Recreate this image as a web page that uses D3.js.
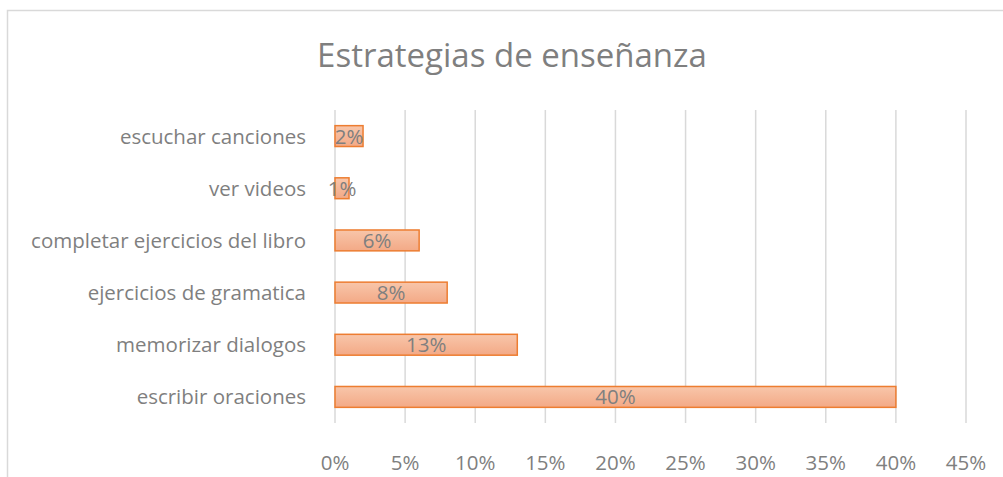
<!DOCTYPE html>
<html>
<head>
<meta charset="utf-8">
<script src="https://cdn.jsdelivr.net/npm/d3@7"></script>
<style>
  html, body { margin: 0; padding: 0; background: #fff; }
  svg { display: block; }
  text { font-family: "Open Sans", "Noto Sans", sans-serif; }
</style>
</head>
<body>
<svg id="chart" width="1003" height="477"></svg>
<script>
const title = "Estrategias de enseñanza";
const categories = [
  "escuchar canciones",
  "ver videos",
  "completar ejercicios del libro",
  "ejercicios de gramatica",
  "memorizar dialogos",
  "escribir oraciones"
];
const values = [2, 1, 6, 8, 13, 40];
const tickValues = [0, 5, 10, 15, 20, 25, 30, 35, 40, 45];

const svg = d3.select("#chart");
const plot = { left: 335, right: 966, top: 110, bottom: 423 };
const labelSize = 20.5;

// chart frame
svg.append("rect")
  .attr("x", 7.5).attr("y", 10.5)
  .attr("width", 1010).attr("height", 480)
  .attr("fill", "#fff").attr("stroke", "#d9d9d9").attr("stroke-width", 1.5);

const defs = svg.append("defs");
const grad = defs.append("linearGradient")
  .attr("id", "barFill").attr("x1", 0).attr("y1", 0).attr("x2", 0).attr("y2", 1);
grad.append("stop").attr("offset", "0%").attr("stop-color", "#f8c6aa");
grad.append("stop").attr("offset", "100%").attr("stop-color", "#f3a986");

const x = d3.scaleLinear().domain([0, 45]).range([plot.left, plot.right]);
const y = d3.scaleBand().domain(categories).range([plot.top, plot.bottom]).paddingInner(0.6).paddingOuter(0.3);

// vertical gridlines
svg.append("g").selectAll("line").data(tickValues).join("line")
  .attr("x1", d => x(d)).attr("x2", d => x(d))
  .attr("y1", plot.top).attr("y2", plot.bottom)
  .attr("stroke", "#d9d9d9").attr("stroke-width", 1.5);

// x tick labels
svg.append("g").selectAll("text").data(tickValues).join("text")
  .attr("x", d => x(d)).attr("y", 470)
  .attr("text-anchor", "middle")
  .attr("fill", "#7f7f7f").attr("font-size", labelSize)
  .text(d => d + "%");

// category labels
svg.append("g").selectAll("text").data(categories).join("text")
  .attr("x", 306).attr("y", d => y(d) + y.bandwidth() / 2 + 7.5)
  .attr("text-anchor", "end")
  .attr("fill", "#7f7f7f").attr("font-size", labelSize)
  .text(d => d);

// bars
svg.append("g").selectAll("rect").data(values).join("rect")
  .attr("x", x(0))
  .attr("y", (d, i) => y(categories[i]))
  .attr("width", d => x(d) - x(0))
  .attr("height", y.bandwidth())
  .attr("fill", "url(#barFill)")
  .attr("stroke", "#ed7d31").attr("stroke-width", 1.5);

// value labels
svg.append("g").selectAll("text").data(values).join("text")
  .attr("x", d => (x(d) + x(0)) / 2)
  .attr("y", (d, i) => y(categories[i]) + y.bandwidth() / 2 + 7.5)
  .attr("text-anchor", "middle")
  .attr("fill", "#7f7f7f").attr("font-size", labelSize)
  .text(d => d + "%");

// title
svg.append("text")
  .attr("x", 512).attr("y", 67)
  .attr("text-anchor", "middle")
  .attr("fill", "#7f7f7f").attr("font-size", 33)
  .text(title);
</script>
</body>
</html>
